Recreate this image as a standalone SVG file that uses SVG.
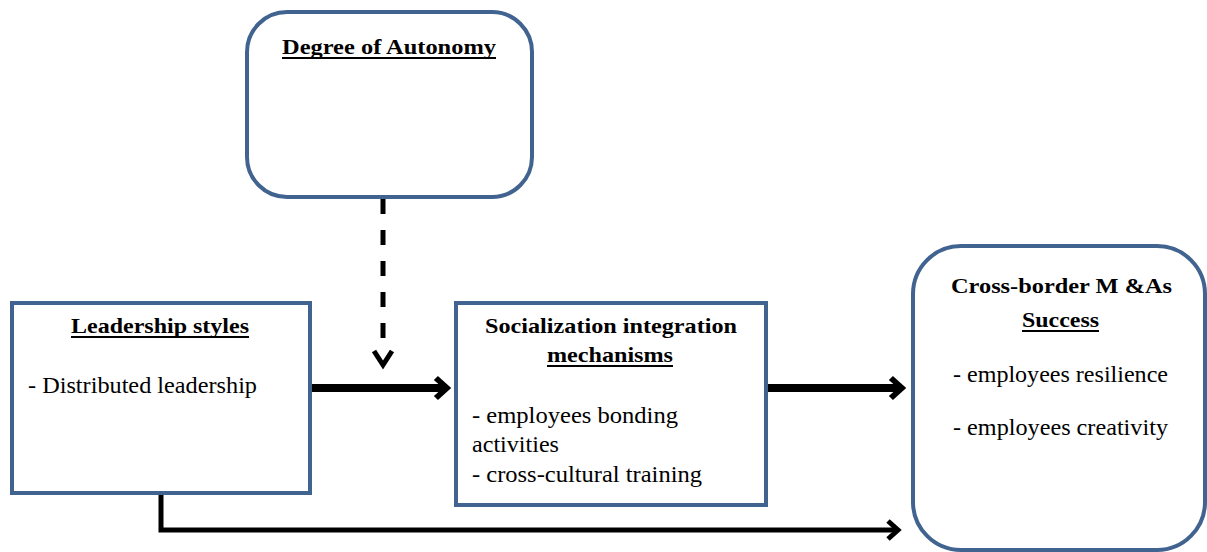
<svg xmlns="http://www.w3.org/2000/svg" width="1207" height="552" viewBox="0 0 1207 552">
<style>
.box{fill:#fff;stroke:#41638F;stroke-width:4}
.t{font-family:'Liberation Serif','Times New Roman','DejaVu Serif',serif;font-weight:bold;font-size:22px;fill:#000}
.b{font-family:'Liberation Serif','Times New Roman','DejaVu Serif',serif;font-size:23px;fill:#000}
.u{stroke:#000;stroke-width:2}
.c{fill:none;stroke:#000;stroke-linejoin:miter}
</style>
<rect width="1207" height="552" fill="#fff"/>
<g id="connectors">
  <line class="c" x1="383" y1="199" x2="383" y2="352" stroke-width="5" stroke-dasharray="15 16"/>
  <path class="c" d="M374,351 L383,365 L392,351" stroke-width="5"/>
  <line class="c" x1="310" y1="388" x2="443" y2="388" stroke-width="8"/>
  <path d="M438,378 L449,388 L438,398 L436,396 L445,388 L436,380 Z" fill="#000" stroke="#000" stroke-width="3"/>
  <line class="c" x1="766" y1="388" x2="898" y2="388" stroke-width="8"/>
  <path d="M893,378 L904,388 L893,398 L891,396 L900,388 L891,380 Z" fill="#000" stroke="#000" stroke-width="3"/>
  <path class="c" d="M161,493 L161,530 L896,530" stroke-width="5"/>
  <path class="c" d="M888,521 L898,530 L888,539" stroke-width="5"/>
</g>
<g id="autonomy">
  <rect class="box" x="247" y="12" width="285" height="185" rx="40"/>
  <text class="t" font-family="Liberation Serif" x="282" y="54" textLength="214" lengthAdjust="spacingAndGlyphs">Degree of Autonomy</text>
  <line class="u" x1="282" y1="58" x2="496" y2="58"/>
</g>
<g id="leadership">
  <rect class="box" x="12" y="303" width="298" height="190"/>
  <text class="t" x="71" y="333" textLength="178" lengthAdjust="spacingAndGlyphs">Leadership styles</text>
  <line class="u" x1="71" y1="337" x2="249" y2="337"/>
  <text class="b" x="28" y="393" textLength="229" lengthAdjust="spacingAndGlyphs">- Distributed leadership</text>
</g>
<g id="socialization">
  <rect class="box" x="456" y="303" width="310" height="202"/>
  <text class="t" x="485" y="333" textLength="252" lengthAdjust="spacingAndGlyphs">Socialization integration</text>
  <text class="t" x="547" y="362" textLength="126" lengthAdjust="spacingAndGlyphs">mechanisms</text>
  <line class="u" x1="547" y1="366" x2="673" y2="366"/>
  <text class="b" x="472" y="423" textLength="206" lengthAdjust="spacingAndGlyphs">- employees bonding</text>
  <text class="b" x="472" y="452" textLength="87" lengthAdjust="spacingAndGlyphs">activities</text>
  <text class="b" x="472" y="482" textLength="230" lengthAdjust="spacingAndGlyphs">- cross-cultural training</text>
</g>
<g id="success">
  <rect class="box" x="913" y="246" width="292" height="304" rx="48"/>
  <text class="t" x="951" y="293" textLength="221" lengthAdjust="spacingAndGlyphs">Cross-border M &amp;As</text>
  <text class="t" x="1022" y="327" textLength="77" lengthAdjust="spacingAndGlyphs">Success</text>
  <line class="u" x1="1022" y1="331" x2="1099" y2="331"/>
  <text class="b" x="953" y="382" textLength="215" lengthAdjust="spacingAndGlyphs">- employees resilience</text>
  <text class="b" x="953" y="435" textLength="215" lengthAdjust="spacingAndGlyphs">- employees creativity</text>
</g>
</svg>
